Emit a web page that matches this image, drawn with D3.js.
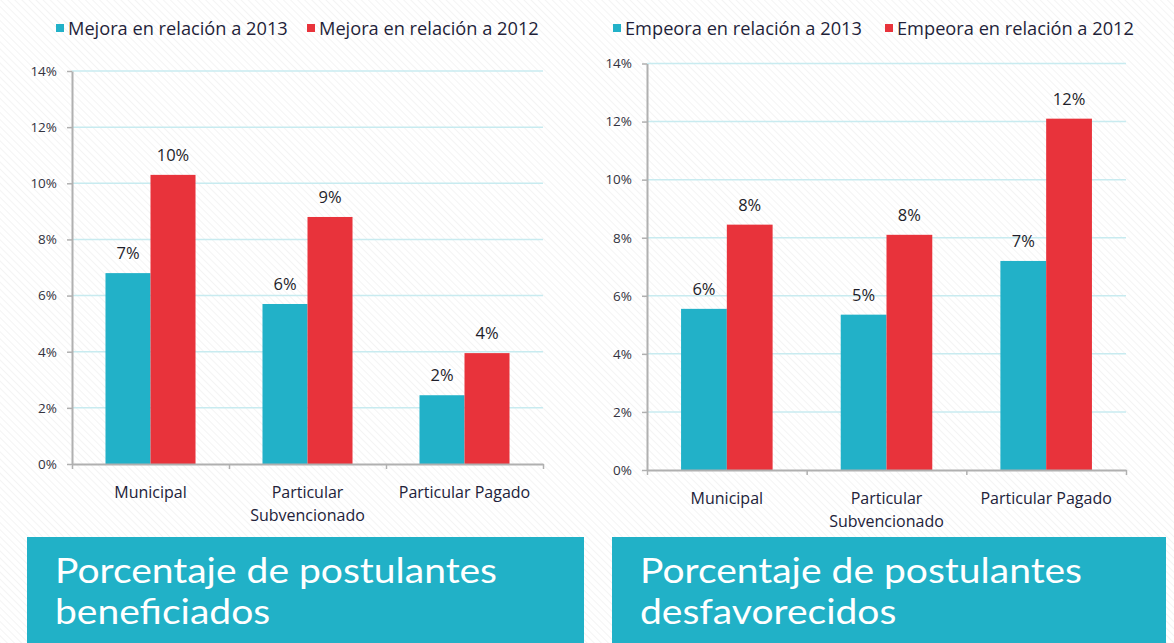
<!DOCTYPE html>
<html><head><meta charset="utf-8">
<script src="https://cdn.jsdelivr.net/npm/d3@7"></script>
<style>body{margin:0;background:#fff;} svg{display:block;font-family:"Open Sans",Lato,sans-serif;}</style>
</head><body><svg id="c" width="1174" height="643"></svg>
<script>
// ---- data ----
const categories = ["Municipal", "Particular Subvencionado", "Particular Pagado"];
const categoryLines = [["Municipal"], ["Particular", "Subvencionado"], ["Particular Pagado"]];
const yTicks = [0, 2, 4, 6, 8, 10, 12, 14];
const seriesLeft = ["Mejora en relación a 2013", "Mejora en relación a 2012"];
const mejora2013 = [6.8, 5.7, 2.45];
const mejora2012 = [10.3, 8.8, 3.95];
const seriesRight = ["Empeora en relación a 2013", "Empeora en relación a 2012"];
const empeora2013 = [5.55, 5.35, 7.2];
const empeora2012 = [8.45, 8.1, 12.1];
const titleLeft = ["Porcentaje de postulantes", "beneficiados"];
const titleRight = ["Porcentaje de postulantes", "desfavorecidos"];

const TEAL = "#22b1c8", RED = "#e8333b", BOX = "#21b1c7";
const svg = d3.select("#c");

// background stripes
const defs = svg.append("defs");
const pat = defs.append("pattern").attr("id", "stripes").attr("width", 5).attr("height", 5)
  .attr("patternUnits", "userSpaceOnUse").attr("patternTransform", "rotate(-45)");
pat.append("rect").attr("width", 5).attr("height", 5).attr("fill", "#ffffff");
pat.append("line").attr("x1", 0).attr("y1", 0).attr("x2", 0).attr("y2", 5).attr("stroke", "#f1f1f1").attr("stroke-width", 1.5);
svg.append("rect").attr("width", 1174).attr("height", 643).attr("fill", "url(#stripes)");

function fit(t, w) {
  const l = t.node().getComputedTextLength();
  const fs = parseFloat(t.attr("font-size"));
  t.attr("font-size", fs * w / l);
}

function panel(cfg, s2013, s2012, names, title) {
  const g = svg.append("g");
  const x = d3.scaleBand().domain(categories).range([cfg.x0, cfg.x1]).padding(0);
  const xs = d3.scaleBand().domain([0, 1]).range([0, x.bandwidth()]).paddingInner(0).paddingOuter(0.744);
  const y = d3.scaleLinear().domain([0, 14]).range([cfg.y0, cfg.y14]);
  const xb = d3.scaleLinear().domain([0, categories.length]).range([cfg.x0, cfg.x1]);

  // gridlines
  g.append("g").selectAll("line").data(yTicks.filter(t => t > 0)).join("line")
    .attr("x1", cfg.x0).attr("x2", cfg.x1).attr("y1", d => y(d)).attr("y2", d => y(d))
    .attr("stroke", "#c8ebf0").attr("stroke-width", 1.5);

  // bars
  const rows = categories.map((c, i) => ({ c, v: [s2013[i], s2012[i]] }));
  const grp = g.append("g").selectAll("g").data(rows).join("g")
    .attr("transform", d => `translate(${x(d.c)},0)`);
  grp.selectAll("rect").data(d => d.v.map((v, k) => ({ v, k }))).join("rect")
    .attr("x", d => xs(d.k)).attr("width", xs.bandwidth())
    .attr("y", d => y(d.v)).attr("height", d => y(0) - y(d.v))
    .attr("fill", d => d.k === 0 ? TEAL : RED);
  grp.selectAll("text").data(d => d.v.map((v, k) => ({ v, k }))).join("text")
    .attr("x", d => xs(d.k) + xs.bandwidth() / 2).attr("y", d => y(d.v) - 14)
    .attr("text-anchor", "middle").attr("font-size", 16.5).attr("fill", "#1e1e2a")
    .text(d => Math.round(d.v) + "%");

  // y axis
  const ya = g.append("g").attr("transform", `translate(${cfg.x0},0)`)
    .call(d3.axisLeft(y).tickValues(yTicks).tickFormat(d => d + "%").tickSize(5).tickSizeOuter(0).tickPadding(10));
  ya.select(".domain").attr("stroke", "#b0b0b0").attr("stroke-width", 2);
  ya.selectAll(".tick line").attr("stroke", "#b0b0b0").attr("stroke-width", 1.5);
  ya.selectAll(".tick text").attr("font-size", 13.5).attr("fill", "#333340").attr("font-family", "'Open Sans'");

  // x axis
  const xa = g.append("g").attr("transform", `translate(0,${cfg.y0})`)
    .call(d3.axisBottom(xb).tickValues(d3.range(categories.length + 1)).tickFormat("").tickSize(5).tickSizeOuter(0));
  xa.select(".domain").attr("stroke", "#b0b0b0").attr("stroke-width", 2);
  xa.selectAll(".tick line").attr("stroke", "#b0b0b0").attr("stroke-width", 1.5);

  // category labels
  categories.forEach((c, i) => {
    const t = g.append("text").attr("x", x(c) + x.bandwidth() / 2).attr("y", cfg.y0 + 34)
      .attr("text-anchor", "middle").attr("font-size", 16).attr("fill", "#22223a");
    categoryLines[i].forEach((ln, j) => t.append("tspan").attr("x", x(c) + x.bandwidth() / 2).attr("dy", j ? 23 : 0).text(ln));
  });

  // legend
  const lg = g.append("g");
  names.forEach((n, k) => {
    const lx = cfg.legend[k];
    lg.append("rect").attr("x", lx).attr("y", 24).attr("width", 8).attr("height", 8).attr("fill", k ? RED : TEAL);
    const t = lg.append("text").attr("x", lx + 12).attr("y", 35).attr("font-size", 15).attr("fill", "#1f1f3a").text(n);
    fit(t, cfg.legendW);
  });

  // title box
  svg.append("rect").attr("x", cfg.bx).attr("y", 537).attr("width", cfg.bw).attr("height", 120).attr("fill", BOX);
  title.forEach((ln, j) => {
    const t = svg.append("text").attr("x", cfg.bx + 28).attr("y", 583 + j * 41)
      .attr("font-family", "Lato").attr("font-size", 34).attr("fill", "#ffffff").text(ln);
    if (j === 0) cfg.sx = 442 / t.node().getComputedTextLength();
    t.attr("textLength", t.node().getComputedTextLength() * cfg.sx).attr("lengthAdjust", "spacingAndGlyphs");
  });
}

panel({ x0: 72, x1: 543, y0: 464, y14: 71, legend: [56, 307], legendW: 220, bx: 27, bw: 557 },
  mejora2013, mejora2012, seriesLeft, titleLeft);
panel({ x0: 647, x1: 1126, y0: 470, y14: 63.5, legend: [613, 885], legendW: 237, bx: 612, bw: 554 },
  empeora2013, empeora2012, seriesRight, titleRight);
</script></body></html>
